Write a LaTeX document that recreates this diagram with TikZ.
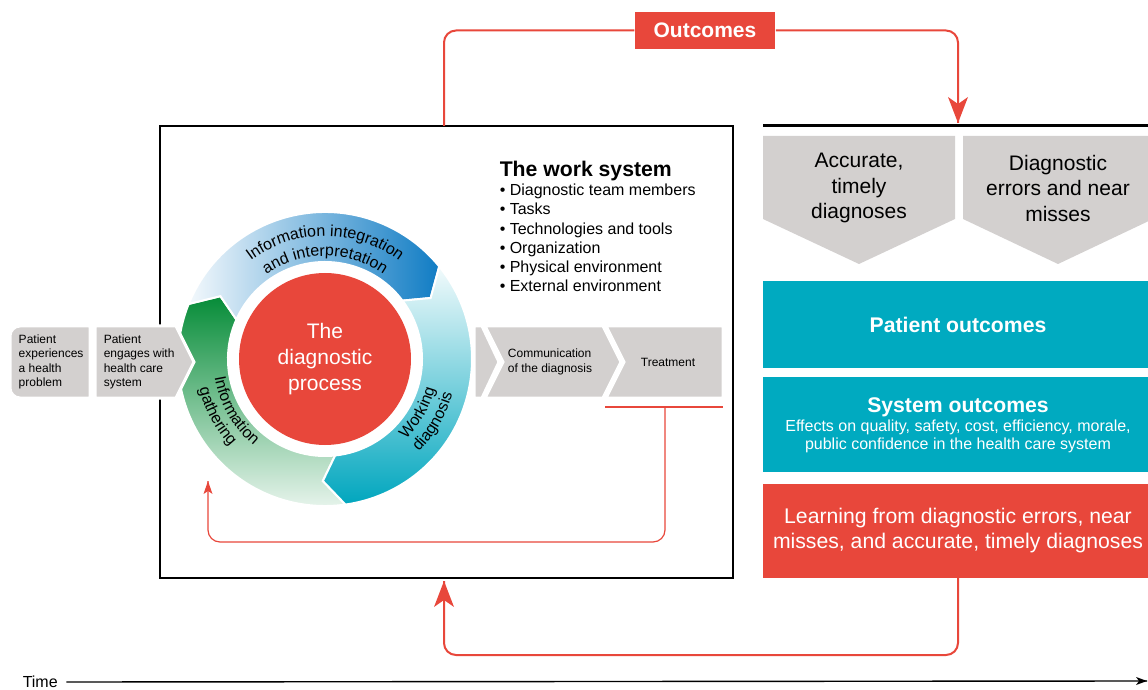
\documentclass[tikz,border=0pt]{standalone}
\usepackage{fontspec}
\setmainfont{Liberation Sans}
\usetikzlibrary{decorations.text}
\definecolor{dxred}{RGB}{232,71,59}
\definecolor{dxteal}{RGB}{0,170,192}
\definecolor{dxgray}{RGB}{211,208,207}
\definecolor{dxblue}{RGB}{16,124,196}
\definecolor{dxgreen}{RGB}{6,140,56}
\definecolor{dxcyan}{RGB}{0,166,190}
\tikzset{every picture/.style={line width=0.75pt}}
\newcommand{\fsz}[2]{\fontsize{#1}{#2}\selectfont}
\newcommand{\ringfont}{\fontsize{8}{9}\selectfont}
\newcommand{\ringpart}[3]{%
  \path[#3] (#1:147) arc[start angle=#1, end angle=#2, radius=147] -- ({#2+9}:122) -- ({#2+2}:97)
    arc[start angle={#2+2}, end angle={#1+2}, radius=97] -- ({#1+9}:122) -- cycle;}

\begin{document}
\begin{tikzpicture}[x=0.5pt,y=0.5pt,yscale=-1,
  chev/.style={fill=dxgray, draw=white, line width=1.5pt},
  ringseg/.style={draw=white, line width=1pt},
  redline/.style={draw=dxred, line width=1pt},
  thinred/.style={draw=dxred, line width=0.6pt},
  boxtext/.style={text=white, align=center, inner sep=0pt},
  chevtext/.style={align=left, inner sep=0pt, font=\fsz{6}{7.2}},
  ringtext/.style={decorate, decoration={text along path, text align=center, text={|\ringfont|#1}}}
]
\useasboundingbox (0,0) rectangle (1148,690);

%Shape: Rectangle [work system]
\draw [line width=1pt] (160,126) rectangle (733,578) ;
%Straight Lines [outcome column top]
\draw [line width=1.5pt] (763,126) -- (1153,126) ;

%Shape: Polygon [accurate diagnoses]
\fill [dxgray] (763,136) -- (955,136) -- (955,219) -- (859,264) -- (763,219) -- cycle ;
%Shape: Polygon [errors and near misses]
\fill [dxgray] (963,136) -- (1153,136) -- (1153,219) -- (1058,264) -- (963,219) -- cycle ;
%Shape: Rectangle [patient outcomes]
\fill [dxteal] (763,281) rectangle (1153,368) ;
%Shape: Rectangle [system outcomes]
\fill [dxteal] (763,377) rectangle (1153,472) ;
%Shape: Rectangle [learning]
\fill [dxred] (763,484) rectangle (1153,578) ;

%Shape: Ring of the diagnostic process
\begin{scope}[shift={(325,359)}]
\ringpart{82}{202}{ringseg, top color=dxgreen, bottom color=dxgreen!6}
\ringpart{202}{321}{ringseg, left color=dxblue!5, right color=dxblue}
\ringpart{321}{442}{ringseg, top color=dxcyan!5, bottom color=dxcyan}
\end{scope}

%Shape: Chevrons
\path [chev] (90,326) -- (20,326) arc[start angle=270, end angle=180, radius=10] -- (10,388) arc[start angle=180, end angle=90, radius=10] -- (90,398) -- cycle ;
\path [chev] (95,326) -- (176,326) -- (194,362) -- (176,398) -- (95,398) -- cycle ;
\path [chev] (474,326) -- (482,326) -- (499,362) -- (482,398) -- (474,398) -- cycle ;
\path [chev] (485,326) -- (603,326) -- (621,362) -- (603,398) -- (485,398) -- (503,362) -- cycle ;
\path [chev] (606,326) -- (723,326) -- (723,398) -- (606,398) -- (624,362) -- cycle ;

%Ring labels
\begin{scope}[shift={(325,359)}, yscale=-1]
\path [ringtext={Information integration}] (150:123) arc[start angle=150, end angle=30, radius=123] ;
\path [ringtext={and interpretation}] (150:103) arc[start angle=150, end angle=30, radius=103] ;
\path [ringtext={Working}] (-70:114) arc[start angle=-70, end angle=10, radius=114] ;
\path [ringtext={diagnosis}] (-70:132) arc[start angle=-70, end angle=10, radius=132] ;
\path [ringtext={Information}] (170:112) arc[start angle=170, end angle=250, radius=112] ;
\path [ringtext={gathering}] (168:129) arc[start angle=168, end angle=248, radius=129] ;
\end{scope}

% Text Node
\node (dxproc) [circle, fill=dxred, minimum size=86pt, inner sep=0pt, text=white, align=center, font=\fsz{10.5}{13}] at (325,359) {The\\diagnostic\\process};
% Text Node
\node (wsys) [anchor=north west, align=left, inner sep=0pt, font=\fsz{8}{9.65}] at (499,160) {{\fsz{10.6}{12}\bfseries The work system}\\ • Diagnostic team members\\ • Tasks\\ • Technologies and tools\\ • Organization\\ • Physical environment\\ • External environment};
% Text Node
\node (pexp) [chevtext, anchor=west] at (18,362) {Patient\\experiences\\a health\\problem};
% Text Node
\node (peng) [chevtext, anchor=west] at (103,362) {Patient\\engages with\\health care\\system};
% Text Node
\node (comm) [chevtext] at (550,362) {Communication\\of the diagnosis};
% Text Node
\node (treat) [chevtext] at (668,362) {Treatment};
% Text Node
\node (acc) [align=center, inner sep=0pt, font=\fsz{10.5}{12.75}] at (859,188) {Accurate,\\timely\\diagnoses};
% Text Node
\node (errs) [align=center, inner sep=0pt, font=\fsz{10.5}{12.75}] at (1058,188) {Diagnostic\\errors and near\\misses};
% Text Node
\node (patout) [boxtext, font=\fsz{10.6}{12}\bfseries] at (958,325) {Patient outcomes};
% Text Node
\node (sysout) [boxtext, font=\fsz{8}{9}] at (958,425) {{\fsz{10.6}{12}\bfseries System outcomes}\\[0.4pt] Effects on quality, safety, cost, efficiency, morale,\\ public confidence in the health care system};
% Text Node
\node (learn) [boxtext, font=\fsz{10.6}{12.5}] at (958,531) {Learning from diagnostic errors, near\\misses, and accurate, timely diagnoses};
% Text Node
\node (outc) [fill=dxred, text=white, inner sep=0pt, minimum width=70pt, minimum height=18.5pt, font=\fsz{10.5}{12}\bfseries] at (705,30.5) {Outcomes};
% Text Node
\node (time) [anchor=west, inner sep=0pt, font=\fsz{8}{9}] at (22,682) {Time};

\coordinate (wtop) at (444,126);
\coordinate (otip) at (958,123);
\coordinate (lbot) at (958,578);
\coordinate (wbot) at (444,581);
\coordinate (trtL) at (605,407);
\coordinate (trtR) at (723,407);
\coordinate (trtM) at (665,407);
\coordinate (gath) at (208,481);
\coordinate (tend) at (1147,681);

%Straight Lines [outcomes loop]
\draw [redline, rounded corners=6pt] (wtop) |- (outc.west) ;
\draw [redline, rounded corners=6pt] (outc.east) -| (otip) ;
\draw [shift={(otip)}, rotate=270] [fill=dxred, draw opacity=0] (26,-10) -- (0,0) -- (26,10) -- (19,0) -- cycle ;
%Straight Lines [learning loop]
\draw [redline, rounded corners=6pt] (lbot) -- ++(0,77) -| (wbot) ;
\draw [shift={(wbot)}, rotate=90] [fill=dxred, draw opacity=0] (26,-10) -- (0,0) -- (26,10) -- (19,0) -- cycle ;
%Straight Lines [treatment loop]
\draw [thinred] (trtL) -- (trtR) ;
\draw [thinred, rounded corners=6pt] (trtM) -- ++(0,135) -| (gath) ;
\draw [shift={(gath)}, rotate=90] [fill=dxred, draw opacity=0] (13,-4.5) -- (0,0) -- (13,4.5) -- (10,0) -- cycle ;
%Straight Lines [time axis]
\draw [line width=0.7pt] ([xshift=4pt]time.east) -- (tend) ;
\draw [shift={(tend)}, rotate=180] [fill=black, draw opacity=0] (11,-4) -- (0,0) -- (11,4) -- (8,0) -- cycle ;

\end{tikzpicture}
\end{document}
